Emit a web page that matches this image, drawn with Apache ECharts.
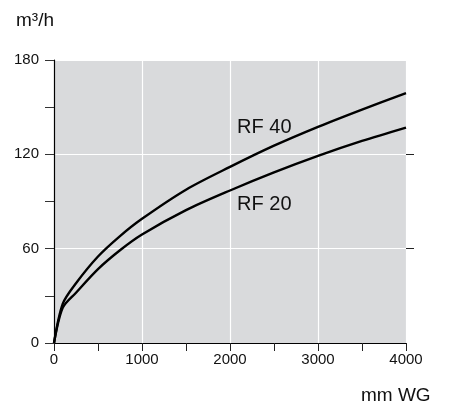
<!DOCTYPE html>
<html>
<head>
<meta charset="utf-8">
<script src="https://cdn.jsdelivr.net/npm/echarts@6/dist/echarts.min.js"></script>
<style>html,body{margin:0;padding:0;background:#fff}#c{width:456px;height:412px}</style>
</head>
<body>
<div id="c"></div>
<script>
// pressure (mm WG)
const pressure = [0, 100, 250, 500, 750, 1000, 1500, 2000, 2500, 3000, 3500, 4000];
// flow (m³/h)
const rf40 = [0, 25, 38, 55, 68, 79, 97.5, 112, 125.5, 137.5, 148.5, 159];
const rf20 = [0, 22.5, 32, 47, 59, 69, 84.5, 97, 108.5, 119, 128.5, 137];
const seriesNames = ['RF 40', 'RF 20'];
const labelCoords = [[2390, 137], [2390, 88]];
const xTicks = [0, 1000, 2000, 3000, 4000];
const yTicks = [0, 60, 120, 180];
const rightTicks = [60, 120];

const font = 'Liberation Sans, Arial, sans-serif';
const chart = echarts.init(document.getElementById('c'));
function pairs(xs, ys) { return xs.map((x, i) => [x, ys[i]]); }
function mkSeries(name, vals, coord) {
  return {
    name: name, type: 'line', data: pairs(pressure, vals), showSymbol: false,
    smooth: 0.3,
    lineStyle: { color: '#000', width: 2.4 }, z: 5,
    markPoint: {
      symbol: 'circle', symbolSize: 0,
      label: { show: true, formatter: name, color: '#111', fontSize: 20, fontFamily: font, position: 'inside' },
      data: [{ coord: coord }]
    }
  };
}
chart.setOption({
  animation: false,
  grid: { left: 54, right: 50, top: 60, bottom: 69, show: true, backgroundColor: '#d9dadc', borderWidth: 0 },
  xAxis: {
    type: 'value', min: 0, max: 4000, interval: 1000,
    axisLine: { show: true, lineStyle: { color: '#000', width: 1.2 } },
    axisTick: { show: true, length: 8, lineStyle: { color: '#222' } },
    minorTick: { show: true, splitNumber: 2, length: 8, lineStyle: { color: '#222' } },
    axisLabel: { fontSize: 15, color: '#111', fontFamily: font, margin: 9,
      customValues: xTicks, formatter: v => String(v) },
    splitLine: { show: true, lineStyle: { color: '#fff', width: 1.2 } }
  },
  yAxis: [{
    type: 'value', min: 0, max: 180, interval: 60,
    axisLine: { show: true, lineStyle: { color: '#000', width: 1.2 } },
    axisTick: { show: true, length: 9, lineStyle: { color: '#333' } },
    minorTick: { show: true, splitNumber: 2, length: 9, lineStyle: { color: '#333' } },
    axisLabel: { fontSize: 15, color: '#111', fontFamily: font, margin: 15, customValues: yTicks, formatter: v => String(v) },
    splitLine: { show: true, lineStyle: { color: '#fff', width: 1.2 } }
  }, {
    type: 'value', min: 0, max: 180, interval: 60, position: 'right',
    axisLine: { show: false },
    axisTick: { show: true, length: 8, lineStyle: { color: '#222' }, customValues: rightTicks },
    axisLabel: { show: false },
    splitLine: { show: false }
  }],
  graphic: [
    { type: 'text', left: 16, top: 11, style: { text: 'm³/h', fontSize: 19, fontFamily: font, fill: '#111' } },
    { type: 'text', left: 361, top: 386, style: { text: 'mm WG', fontSize: 19, fontFamily: font, fill: '#111' } }
  ],
  series: [mkSeries(seriesNames[0], rf40, labelCoords[0]), mkSeries(seriesNames[1], rf20, labelCoords[1])]
});
</script>
</body>
</html>
